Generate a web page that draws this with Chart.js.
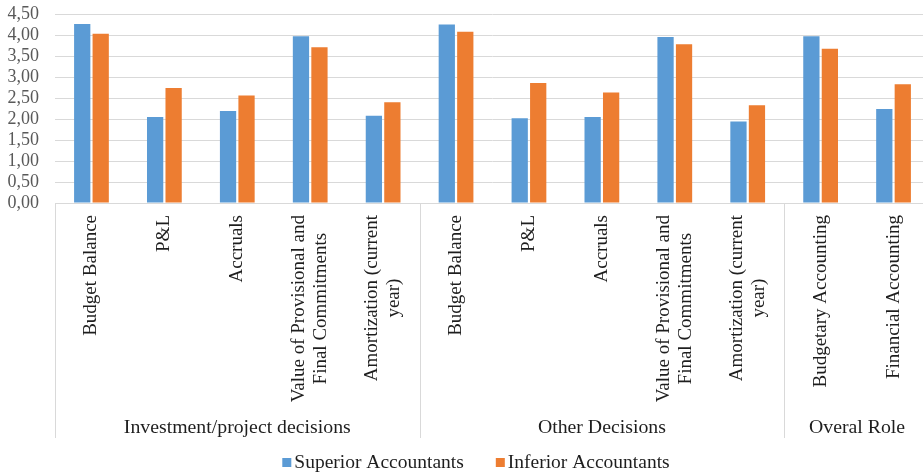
<!DOCTYPE html>
<html>
<head>
<meta charset="utf-8">
<script src="https://cdn.jsdelivr.net/npm/chart.js@4/dist/chart.umd.min.js"></script>
<style>
  html, body { margin: 0; padding: 0; background: #fff; overflow: hidden; }
  #wrap { width: 932px; height: 474px; }
</style>
</head>
<body>
<div id="wrap"><canvas id="chart" width="932" height="474"></canvas></div>
<script>
const categories = [
  ["Budget Balance"], ["P&L"], ["Accruals"], ["Value of Provisional and", "Final Commitments"], ["Amortization (current", "year)"],
  ["Budget Balance"], ["P&L"], ["Accruals"], ["Value of Provisional and", "Final Commitments"], ["Amortization (current", "year)"],
  ["Budgetary Accounting"], ["Financial Accounting"]
]
const groups = ["Investment/project decisions", "Other Decisions", "Overal Role"]
const groupSizes = [5, 5, 2]
const superior = [4.26, 2.05, 2.19, 3.97, 2.08, 4.25, 2.02, 2.05, 3.95, 1.94, 3.97, 2.24]
const inferior = [4.03, 2.74, 2.56, 3.71, 2.40, 4.08, 2.86, 2.63, 3.78, 2.33, 3.67, 2.83]
const seriesNames = ["Superior Accountants", "Inferior Accountants"]
const seriesColors = ["#5b9bd5", "#ed7d31"]

const serif = "'Liberation Serif', 'Times New Roman', serif"
const lineColor = "#d9d9d9"
const textColor = "#1e1e1e"

// category labels, group labels, separators and legend drawn on the canvas
const multiLevelAxis = {
  id: "multiLevelAxis",
  afterDraw(chart) {
    const ctx = chart.ctx
    const x = chart.scales.x
    const bottom = chart.chartArea.bottom
    const catW = x.width / categories.length

    ctx.save()
    ctx.font = "19px " + serif
    ctx.fillStyle = textColor
    ctx.textBaseline = "middle"

    // rotated category labels, top end near the axis
    categories.forEach((lines, i) => {
      const cx = x.getPixelForValue(i)
      const w = Math.max(...lines.map((l) => ctx.measureText(l).width))
      ctx.save()
      ctx.translate(cx, bottom + 12)
      ctx.rotate(-Math.PI / 2)
      ctx.textAlign = "center"
      lines.forEach((l, k) => {
        ctx.fillText(l, -w / 2, (k - (lines.length - 1) / 2) * 22)
      })
      ctx.restore()
    })

    // group separators and labels
    ctx.font = "19.8px " + serif
    ctx.strokeStyle = lineColor
    ctx.lineWidth = 1
    let start = 0
    groups.forEach((g, gi) => {
      const x0 = x.left + start * catW
      const x1 = x.left + (start + groupSizes[gi]) * catW
      ctx.beginPath()
      ctx.moveTo(Math.round(x0) + 0.5, bottom)
      ctx.lineTo(Math.round(x0) + 0.5, 438)
      ctx.moveTo(Math.round(x1) + 0.5, bottom)
      ctx.lineTo(Math.round(x1) + 0.5, 438)
      ctx.stroke()
      ctx.textAlign = "center"
      ctx.fillText(g, (x0 + x1) / 2, 428)
      start += groupSizes[gi]
    })

    // legend
    ctx.font = "19.5px " + serif
    const box = 9
    const gapText = 3
    const gapItem = 32
    const widths = seriesNames.map((n) => ctx.measureText(n).width)
    const total = widths.reduce((a, b) => a + b, 0) + seriesNames.length * (box + gapText) + gapItem
    let lx = 476 - total / 2
    const ly = 463
    ctx.textAlign = "left"
    seriesNames.forEach((n, i) => {
      ctx.fillStyle = seriesColors[i]
      ctx.fillRect(lx, ly - 5, box, box)
      ctx.fillStyle = textColor
      ctx.fillText(n, lx + box + gapText, ly)
      lx += box + gapText + widths[i] + gapItem
    })
    ctx.restore()
  }
}

new Chart(document.getElementById("chart"), {
  type: "bar",
  data: {
    labels: categories.map((c) => c.join(" ")),
    datasets: [
      { label: seriesNames[0], data: superior, backgroundColor: seriesColors[0] },
      { label: seriesNames[1], data: inferior, backgroundColor: seriesColors[1] }
    ]
  },
  options: {
    responsive: false,
    animation: false,
    categoryPercentage: 0.507,
    barPercentage: 0.88,
    layout: { padding: { top: 14, left: 0, right: 2, bottom: 0 } },
    plugins: {
      legend: { display: false },
      tooltip: { enabled: false }
    },
    scales: {
      x: {
        ticks: { display: false },
        grid: { display: false },
        border: { display: true, color: lineColor },
        afterFit: (scale) => { scale.height = 271 }
      },
      y: {
        min: 0,
        max: 4.5,
        ticks: {
          stepSize: 0.5,
          autoSkip: false,
          padding: 16,
          color: "#595959",
          font: { family: serif, size: 18 },
          callback: (v) => v.toFixed(2).replace(".", ",")
        },
        grid: { color: lineColor, drawTicks: false },
        border: { display: false },
        afterFit: (scale) => {
          scale.width = 55
          // tick padding would otherwise push the plot top down
          scale.paddingTop = 0
          scale.paddingBottom = 0
        }
      }
    }
  },
  plugins: [multiLevelAxis]
})
</script>
</body>
</html>
